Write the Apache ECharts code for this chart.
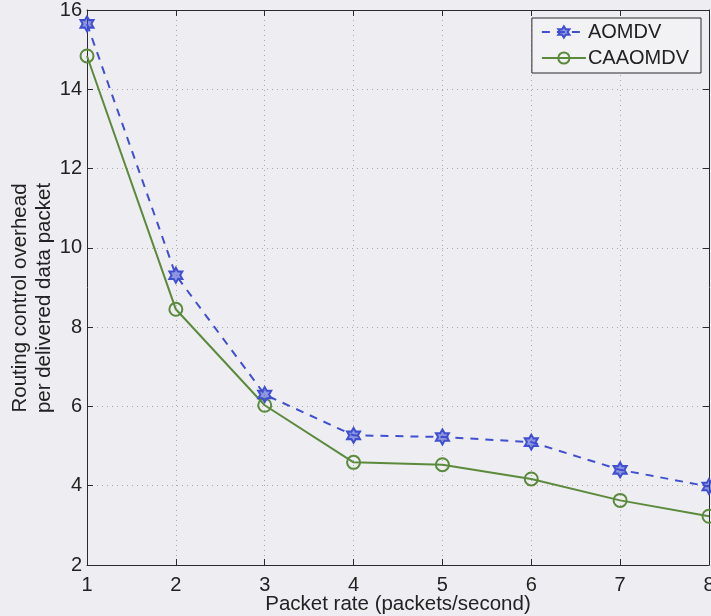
<!DOCTYPE html>
<html>
<head>
<meta charset="utf-8">
<script src="https://cdn.jsdelivr.net/npm/echarts@6/dist/echarts.min.js"></script>
<style>
  html, body { margin: 0; padding: 0; background: #eeeef2; }
  #chart { width: 711px; height: 616px; }
</style>
</head>
<body>
<div id="chart"></div>
<script>
// Packet rate (packets/second)
const packetRates = [1, 2, 3, 4, 5, 6, 7, 8];
// Routing control overhead per delivered data packet
const aomdv   = [15.65, 9.31, 6.30, 5.27, 5.23, 5.10, 4.40, 3.98];
const caaomdv = [14.84, 8.45, 6.03, 4.59, 4.53, 4.17, 3.63, 3.23];
const yTicks = [2, 4, 6, 8, 10, 12, 14, 16];
const xTicks = [1, 2, 3, 4, 5, 6, 7, 8];

const blue = '#3f4fd0';
const green = '#5b8a3c';
const axisColor = '#2a2a2a';
const font = 'Liberation Sans, Arial, Helvetica, sans-serif';

// six-pointed star marker
const hexagram = 'path://M100,0 L128.87,50 L186.6,50 L157.7,100 L186.6,150 L128.87,150 L100,200 L71.13,150 L13.4,150 L42.3,100 L13.4,50 L71.13,50 Z';

const chart = echarts.init(document.getElementById('chart'), null, { renderer: 'canvas' });

const gridLine = { show: true, lineStyle: { color: '#a8a8a8', type: [1, 4], width: 1 } };

const baseX = {
  type: 'value', min: xTicks[0], max: xTicks[xTicks.length - 1], interval: 1,
  axisLine: { show: true, lineStyle: { color: axisColor, width: 1 } },
  axisTick: { show: true, inside: true, length: 6, lineStyle: { color: axisColor } }
};
const baseY = {
  type: 'value', min: yTicks[0], max: yTicks[yTicks.length - 1], interval: 2,
  axisLine: { show: true, lineStyle: { color: axisColor, width: 1 } },
  axisTick: { show: true, inside: true, length: 6, lineStyle: { color: axisColor } }
};

chart.setOption({
  backgroundColor: '#eeeef2',
  animation: false,
  grid: { left: 87, right: 2, top: 10, bottom: 51, show: false, outerBoundsMode: 'none', containLabel: false },
  xAxis: [
    Object.assign({}, baseX, {
      position: 'bottom',
      splitLine: gridLine,
      axisLabel: { color: '#222', fontSize: 20, fontFamily: font, margin: 10 },
      name: 'Packet rate (packets/second)',
      nameLocation: 'middle', nameGap: 29, nameMoveOverlap: false,
      nameTextStyle: { color: '#222', fontSize: 20.5, fontFamily: font }
    }),
    Object.assign({}, baseX, {
      position: 'top', splitLine: { show: false }, axisLabel: { show: false }
    })
  ],
  yAxis: [
    Object.assign({}, baseY, {
      position: 'left',
      splitLine: gridLine,
      axisLabel: { color: '#222', fontSize: 20, fontFamily: font, margin: 5 }
    }),
    Object.assign({}, baseY, {
      position: 'right', splitLine: { show: false }, axisLabel: { show: false }
    })
  ],
  legend: {
    orient: 'vertical',
    right: 10, top: 18,
    padding: [4, 12, 5, 9],
    itemGap: 6,
    itemWidth: 44, itemHeight: 14,
    backgroundColor: '#f2f2f5',
    borderColor: axisColor, borderWidth: 1, borderRadius: 0,
    textStyle: { color: '#222', fontSize: 20, fontFamily: font, padding: [0, 0, 0, -3] },
    data: ['AOMDV', 'CAAOMDV']
  },
  graphic: [{
    type: 'text',
    x: 32, y: 298, rotation: Math.PI / 2,
    style: {
      text: 'Routing control overhead\nper delivered data packet',
      fontSize: 20.5, fontFamily: font, fill: '#222',
      align: 'center', verticalAlign: 'middle', lineHeight: 24
    }
  }],
  series: [
    {
      name: 'AOMDV', type: 'line',
      data: packetRates.map((x, i) => [x, aomdv[i]]),
      symbol: hexagram, symbolSize: [13, 15],
      showAllSymbol: true,
      itemStyle: { color: 'rgba(63,79,208,0.55)', borderColor: blue, borderWidth: 2 },
      lineStyle: { color: blue, width: 2, type: [8, 7] },
      z: 3
    },
    {
      name: 'CAAOMDV', type: 'line',
      data: packetRates.map((x, i) => [x, caaomdv[i]]),
      symbol: 'circle', symbolSize: 13,
      showAllSymbol: true,
      itemStyle: { color: 'rgba(0,0,0,0)', borderColor: green, borderWidth: 2 },
      lineStyle: { color: green, width: 2 },
      z: 2
    }
  ]
});
</script>
</body>
</html>
